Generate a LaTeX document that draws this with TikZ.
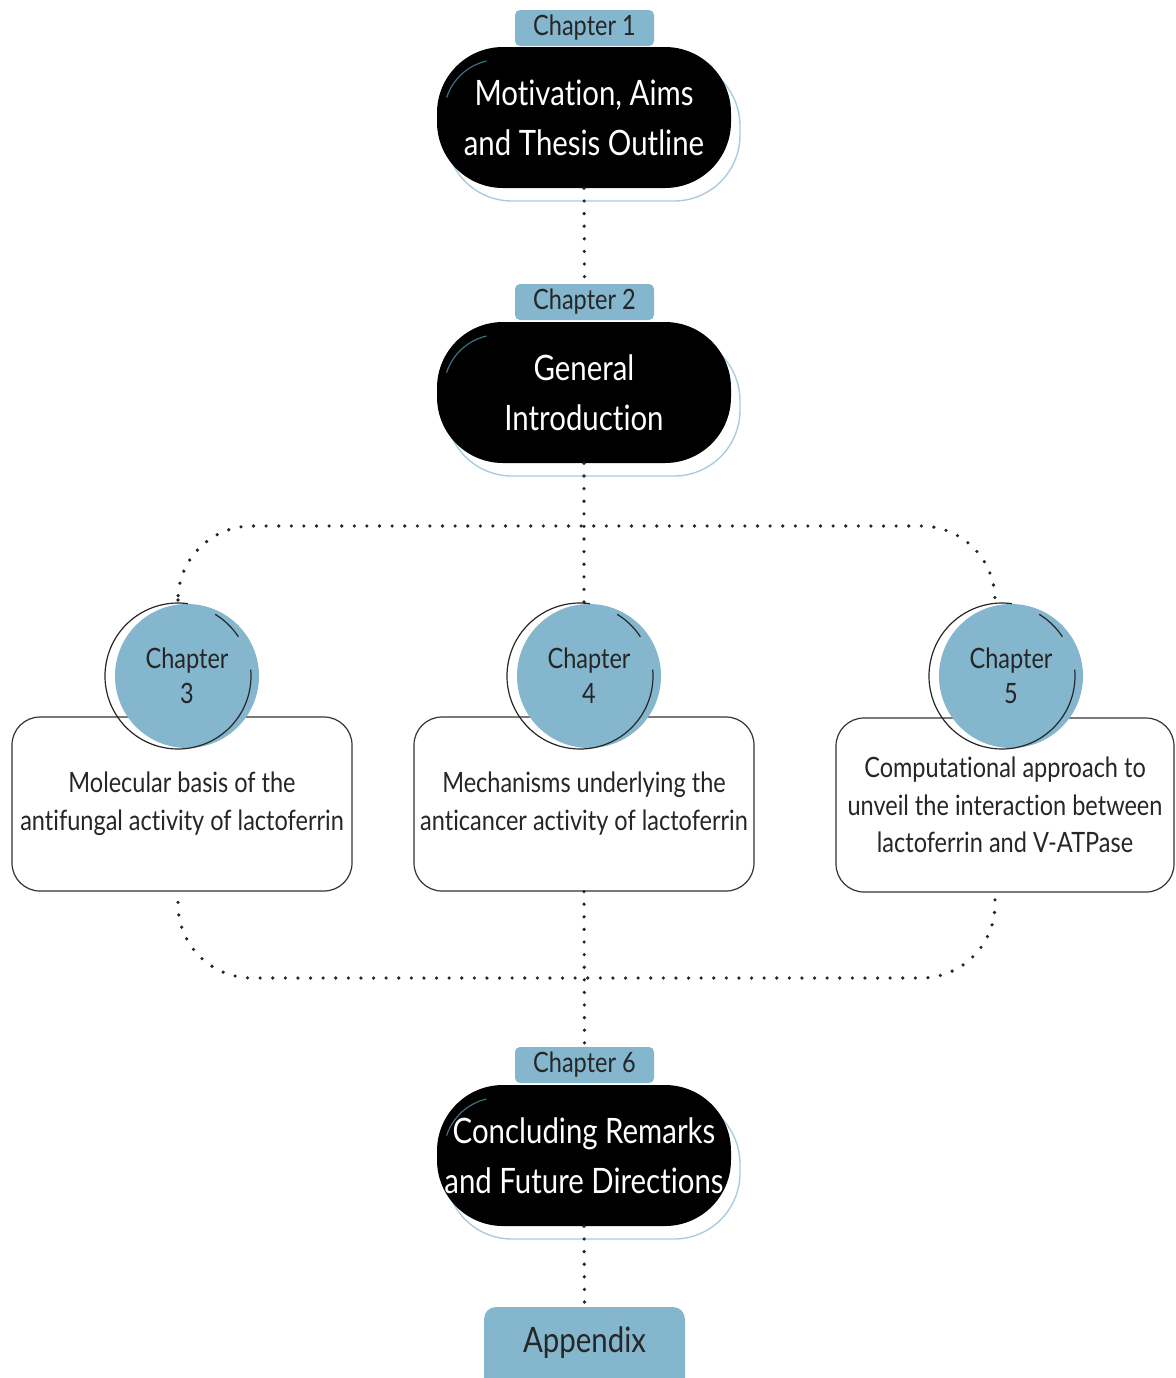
\documentclass[tikz,border=0pt]{standalone}
\usepackage{fontspec}
\setmainfont{Lato}[FakeStretch=0.84, Ligatures={NoCommon}]
\usepackage{tikz}
\definecolor{chblue}{HTML}{84B6CE}
\definecolor{haloblue}{HTML}{A9CDDE}
\definecolor{arcteal}{HTML}{3E6E82}

\begin{document}
\begin{tikzpicture}[x=0.5pt,y=-0.5pt]
            \tikzstyle{chtab}=[fill=chblue, rounded corners=2.5pt, minimum width=69.5pt, minimum height=18pt, inner sep=0pt, text=black!85, font=\fontsize{14}{17}\selectfont]
            \tikzstyle{chblack}=[fill=black, text=white, rounded corners=33pt, minimum width=147pt, minimum height=70.5pt, inner xsep=2pt, align=center, font=\fontsize{17.5}{25}\selectfont,
                preaction={draw=haloblue, line width=0.7pt, fill=none, transform canvas={shift={(4.5pt,-6.5pt)}}}]
            \tikzstyle{chbox}=[draw=black!80, line width=0.6pt, fill=white, rounded corners=14pt, minimum width=170pt, minimum height=87pt, inner xsep=1pt, align=center, text=black!85, font=\fontsize{14}{19}\selectfont]
            \tikzstyle{chcirc}=[circle, fill=chblue, minimum size=72pt, inner sep=0pt, align=center, text=black!85, font=\fontsize{14}{17.5}\selectfont]
            \tikzstyle{ringline}=[draw=black!85, line width=0.6pt]
            \tikzstyle{tealarc}=[draw=arcteal, line width=0.6pt]
            \tikzstyle{dotline}=[line width=1.8pt, line cap=round, dash pattern=on 0pt off 6.3pt, black!85]
            \useasboundingbox (0,0) rectangle (1176,1378);
            % loop round the three middle chapters
            \coordinate (loopnw) at (178,526);
            \coordinate (loopse) at (995,978);
            \draw[dotline, rounded corners=37pt] (loopnw) rectangle (loopse);
            % top chapters
            \node[chblack] (ch1) at (584,117.5) {Motivation, Aims\\and Thesis Outline};
            \node[chtab] (tab1) at (584.5,28) {Chapter 1};
            \node[chblack] (ch2) at (584,392.5) {General\\Introduction};
            \node[chtab] (tab2) at (584.5,302) {Chapter 2};
            \draw[tealarc] ([shift={(5pt,-25.5pt)}]ch1.north west) arc[start angle=162, end angle=103, radius=27.5pt];
            \draw[tealarc] ([shift={(5pt,-25.5pt)}]ch2.north west) arc[start angle=162, end angle=103, radius=27.5pt];
            % middle chapters
            \node[chbox] (box3) at (182,804) {Molecular basis of the\\antifungal activity of lactoferrin};
            \node[chbox] (box4) at (584,804) {Mechanisms underlying the\\anticancer activity of lactoferrin};
            \node[chbox, minimum width=169pt, font=\fontsize{14}{18.75}\selectfont] (box5) at (1005,805) {Computational approach to\\unveil the interaction between\\lactoferrin and V-ATPase};
            \node[chcirc] (c3) at (187,676) {Chapter\\3};
            \node[chcirc] (c4) at (589,676) {Chapter\\4};
            \node[chcirc] (c5) at (1011,676) {Chapter\\5};
            \foreach \c in {c3,c4,c5} {
                \draw[ringline] ([xshift=-4.5pt]\c.center) ++(82:36.5pt) arc[start angle=82, end angle=365, radius=36.5pt];
                \draw[ringline] ([xshift=-4.5pt]\c.center) ++(59:36pt) arc[start angle=59, end angle=33, radius=36pt];
            }
            % last chapter and appendix
            \node[chblack] (ch6) at (584,1155.5) {Concluding Remarks\\and Future Directions};
            \node[chtab] (tab6) at (584.5,1065) {Chapter 6};
            \draw[tealarc] ([shift={(5pt,-25.5pt)}]ch6.north west) arc[start angle=162, end angle=103, radius=27.5pt];
            \node[fill=chblue, rounded corners=6pt, minimum width=100.5pt, minimum height=41.5pt, text depth=8.5pt, text=black!85, font=\fontsize{17.5}{21}\selectfont] (app) at (584.5,1348.5) {Appendix};
            % dotted links
            \draw[dotline] (ch1.south) -- (tab2.north);
            \draw[dotline] (ch2.south) -- (ch2.south |- c4.north);
            \draw[dotline] (box4.south) -- (tab6.north);
            \draw[dotline] (ch6.south) -- (app.north);
        \end{tikzpicture}
\end{document}
